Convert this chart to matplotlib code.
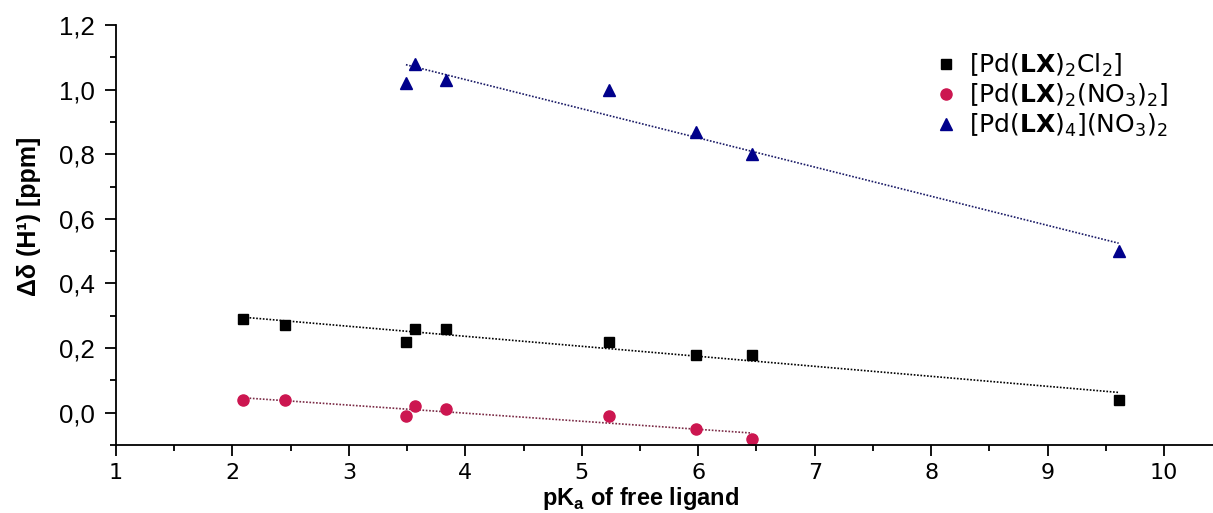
import numpy as np
import matplotlib.pyplot as plt
from matplotlib.ticker import MultipleLocator, FuncFormatter

# pKa of free ligands
pka = [2.09, 2.45, 3.49, 3.57, 3.83, 5.23, 5.98, 6.46, 9.61]

# chemical shift differences [ppm]
d_cl2 = [0.29, 0.27, 0.22, 0.26, 0.26, 0.22, 0.18, 0.18, 0.04]
pka_no3 = [2.09, 2.45, 3.49, 3.57, 3.83, 5.23, 5.98, 6.46]
d_no3 = [0.04, 0.04, -0.01, 0.02, 0.01, -0.01, -0.05, -0.08]
pka_l4 = [3.49, 3.57, 3.83, 5.23, 5.98, 6.46, 9.61]
d_l4 = [1.02, 1.08, 1.03, 1.00, 0.87, 0.80, 0.50]

labels = [r'[Pd($\mathbf{LX}$)$_2$Cl$_2$]',
          r'[Pd($\mathbf{LX}$)$_2$(NO$_3$)$_2$]',
          r'[Pd($\mathbf{LX}$)$_4$](NO$_3$)$_2$']

fig = plt.figure(figsize=(12.13, 5.13), dpi=100)
ax = fig.add_axes([0.0956, 0.1326, 0.9044, 0.8186])

series = [
    (pka, d_cl2, 's', 'black', 'black', 7),
    (pka_no3, d_no3, 'o', '#cc1650', '#7a2a45', 8),
    (pka_l4, d_l4, '^', '#00008b', '#1a1a66', 8.5),
]
for (x, y, m, c, lc, ms), lab in zip(series, labels):
    x = np.array(x)
    k, b = np.polyfit(x, y, 1)
    xs = np.array([x.min(), x.max()])
    ax.plot(xs, k * xs + b, ls=(0, (1, 1)), lw=1.2, color=lc, zorder=1)
    ax.plot(x, y, m, color=c, ms=ms, ls='none', label=lab, zorder=2)

ax.set_xlim(1, 10.42)
ax.set_ylim(-0.1, 1.2)
ax.spines['top'].set_visible(False)
ax.spines['right'].set_visible(False)
ax.spines['left'].set_linewidth(1.3)
ax.spines['bottom'].set_linewidth(1.3)
ax.xaxis.set_major_locator(MultipleLocator(1))
ax.xaxis.set_minor_locator(MultipleLocator(0.5))
ax.yaxis.set_major_locator(MultipleLocator(0.2))
ax.yaxis.set_minor_locator(MultipleLocator(0.1))
ax.yaxis.set_major_formatter(FuncFormatter(lambda v, p: f'{v:.1f}'.replace('.', ',').replace('-0,0', '0,0')))
ax.tick_params(which='major', length=8, width=1.3, direction='out')
ax.tick_params(which='minor', length=4, width=1.3, direction='out')
ax.tick_params(axis='x', pad=5, labelsize=16)
ax.tick_params(axis='y', pad=7, labelsize=18.5)
for t in ax.get_yticklabels():
    t.set_fontfamily('Liberation Sans')
for t in ax.get_xticklabels():
    t.set_fontfamily('DejaVu Sans')

ax.set_xlabel(r'pK$_\mathregular{a}$ of free ligand', fontsize=17, fontweight='bold',
              family='Liberation Sans')
ax.xaxis.set_label_coords(0.478, -0.095)
ax.set_ylabel('Δδ (H¹) [ppm]', fontsize=18, fontweight='bold', family='Liberation Sans')
ax.yaxis.set_label_coords(-0.068, 0.545)

ax.legend(loc='upper left', bbox_to_anchor=(0.725, 0.99), frameon=False, fontsize=18,
          handletextpad=0.4, labelspacing=0.12, handlelength=1.0)

fig.savefig('out.png')
